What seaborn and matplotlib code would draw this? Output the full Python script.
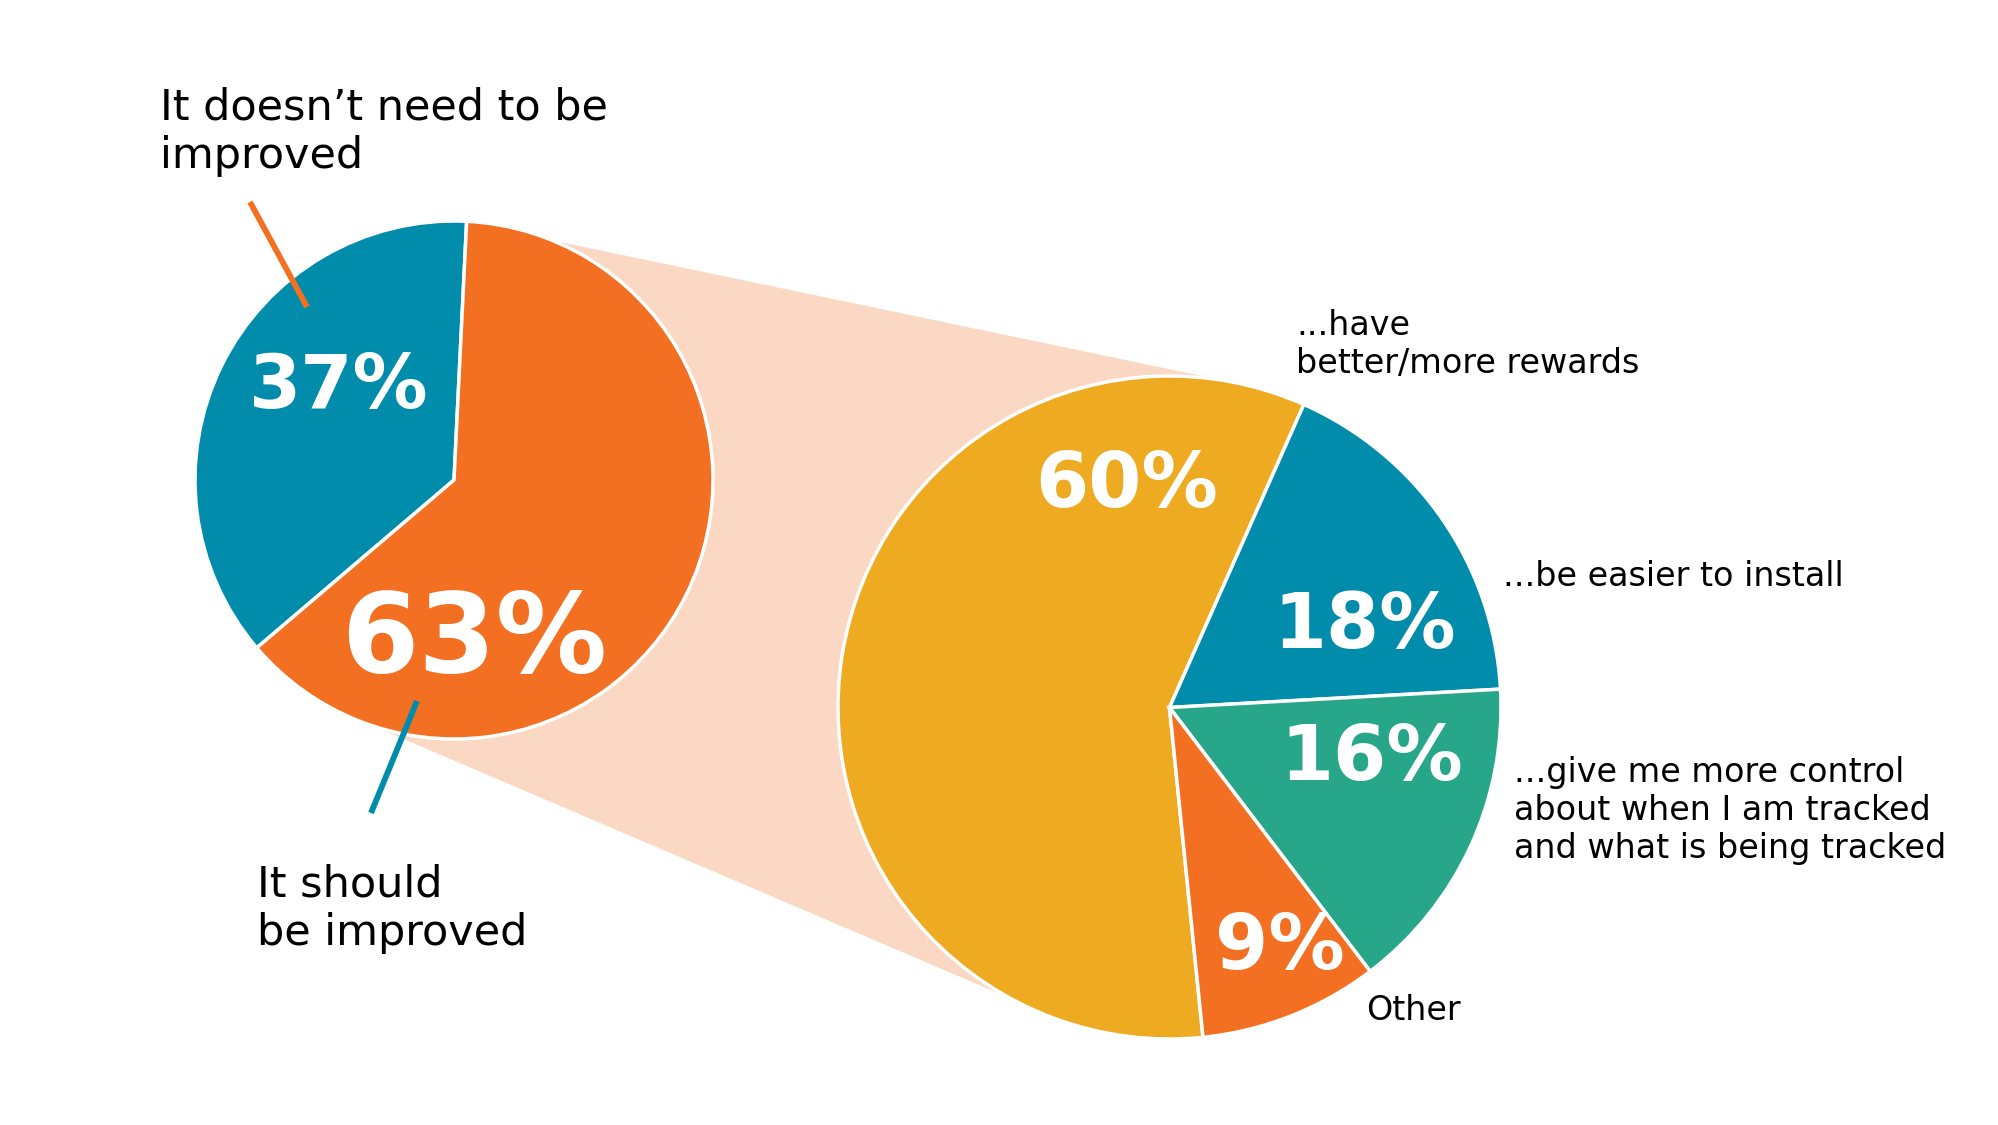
import matplotlib
matplotlib.use("Agg")
import numpy as np
import matplotlib.pyplot as plt
import seaborn as sns
from matplotlib.patches import Polygon

# ---------------------------------------------------------------------
# data
# ---------------------------------------------------------------------
main_labels = ["It doesn’t need to be\nimproved", "It should\nbe improved"]
main_values = [37, 63]
main_colors = ["#008CAA", "#F37022"]

detail_labels = ["...have\nbetter/more rewards",
                 "...be easier to install",
                 "...give me more control\nabout when I am tracked\nand what is being tracked",
                 "Other"]
detail_values = [60, 18, 16, 9]
detail_colors = ["#EEAA20", "#008CAA", "#27A68A", "#F37022"]

band_color = "#FAD8C4"

# ---------------------------------------------------------------------
# layout (pixel units, measured from the top-left corner)
# ---------------------------------------------------------------------
W, H = 1999, 1125


def Y(y):
    return H - y


main_center, main_radius = (454, Y(480)), 259
detail_center, detail_radius = (1169.5, Y(707.5)), 331.5

# label positions: (x, baseline of first line)
main_pct_pos = [(339, 408), (474, 672)]
main_pct_size = [54, 80]
main_label_pos = [(160, 116), (257, 893)]
main_leaders = [((250, 202), (307, 307), "#F37022"),
                ((417, 701), (371, 813), "#008CAA")]

detail_pct_pos = [(1127, 507), (1365, 648), (1372, 780), (1280, 969)]
detail_label_pos = [(1296, 333), (1503, 586), (1514, 778), (1366, 1020)]

sns.set_style("white")
plt.rcParams["font.family"] = ["DejaVu Sans"]

fig = plt.figure(figsize=(W / 100, H / 100), dpi=100)
ax = fig.add_axes([0, 0, 1, 1])

wp = dict(edgecolor="white", linewidth=2.5)
ax.pie(main_values, colors=main_colors, startangle=87.2, counterclock=True,
       center=main_center, radius=main_radius, wedgeprops=wp, frame=False)
ax.pie(detail_values, colors=detail_colors, startangle=275.8, counterclock=False,
       center=detail_center, radius=detail_radius, wedgeprops=wp, frame=False)


# connecting band behind both pies
def on_circle(c, r, deg):
    a = np.deg2rad(deg)
    return (c[0] + r * np.cos(a), c[1] + r * np.sin(a))


band = Polygon([on_circle(main_center, main_radius, 67.7),
                on_circle(detail_center, detail_radius, 75.7),
                on_circle(detail_center, detail_radius, 241.3),
                on_circle(main_center, main_radius, 251.9)],
               closed=True, facecolor=band_color, edgecolor="none", zorder=0)
ax.add_patch(band)

# percentages
for v, (x, y), fs in zip(main_values, main_pct_pos, main_pct_size):
    ax.text(x, Y(y), f"{v}%", color="white", fontsize=fs, fontweight="bold",
            ha="center", va="baseline", zorder=5)
for v, (x, y) in zip(detail_values, detail_pct_pos):
    ax.text(x, Y(y), f"{v}%", color="white", fontsize=55, fontweight="bold",
            ha="center", va="baseline", zorder=5)


# category labels: matplotlib puts the last line on the baseline,
# so shift down by the extra lines
def put_label(x, y_first, text, fs):
    n = text.count("\n")
    step = 1.2 * fs * 100 / 72
    ax.text(x, Y(y_first + n * step), text, color="black", fontsize=fs,
            ha="left", va="baseline", linespacing=1.2)


for lab, (x, y) in zip(main_labels, main_label_pos):
    put_label(x, y, lab, 31)
for lab, (x, y) in zip(detail_labels, detail_label_pos):
    put_label(x, y, lab, 24)

# leader lines
for (x0, y0), (x1, y1), col in main_leaders:
    ax.plot([x0, x1], [Y(y0), Y(y1)], color=col, lw=4.2,
            solid_capstyle="butt", zorder=4)

ax.set_xlim(0, W)
ax.set_ylim(0, H)
ax.set_aspect("equal")
ax.axis("off")

fig.savefig("out.png", dpi=100)
